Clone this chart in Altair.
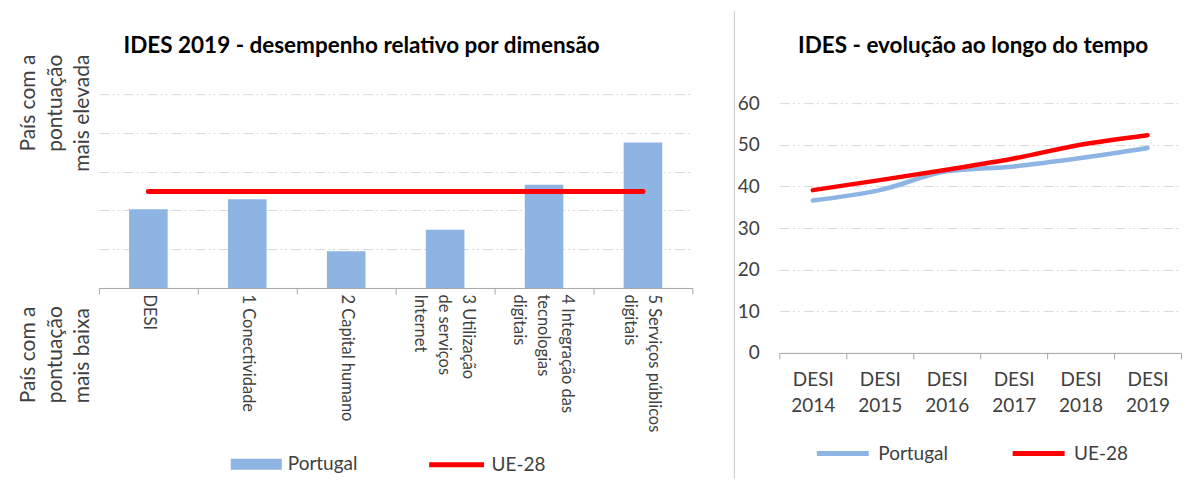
import altair as alt
import pandas as pd

FONT = "Lato"
TEXT = "#404040"
GRID = "#D9D9D9"
AXIS = "#A6A6A6"
BLUE = "#8DB4E2"
RED = "#FF0000"
GRID_DASH = [10, 3, 2, 3, 2, 4]

# ---- left panel data ----
dimensions = [
    "DESI",
    "1 Conectividade",
    "2 Capital humano",
    "3 Utilização\nde serviços\nInternet",
    "4 Integração das\ntecnologias\ndigitais",
    "5 Serviços públicos\ndigitais",
]
portugal_rel = [2.03, 2.29, 0.95, 1.50, 2.66, 3.75]
ue_rel = [2.49, 2.49, 2.49, 2.49, 2.49, 2.49]
rel_grid = [1, 2, 3, 4, 5]

# ---- right panel data ----
years = ["DESI 2014", "DESI 2015", "DESI 2016", "DESI 2017", "DESI 2018", "DESI 2019"]
portugal_desi = [36.6, 39.1, 43.6, 44.8, 46.8, 49.2]
ue_desi = [39.1, 41.5, 44.0, 46.7, 50.0, 52.3]
desi_ticks = [0, 10, 20, 30, 40, 50, 60]
series = ["Portugal", "UE-28"]

left_df = pd.DataFrame({
    "dim": dimensions,
    "Portugal": portugal_rel,
    "UE": ue_rel,
    "s_pt": ["Portugal"] * len(dimensions),
    "s_ue": ["UE-28"] * len(dimensions),
})

right_df = pd.DataFrame({
    "year": years + years,
    "value": portugal_desi + ue_desi,
    "series": ["Portugal"] * len(years) + ["UE-28"] * len(years),
})

LW, LH = 594, 194
RW, RH = 402, 259

label_shift = {
    "condition": [
        {"test": "length(split(datum.value, '\\n')) == 3", "value": 22},
        {"test": "length(split(datum.value, '\\n')) == 2", "value": 11},
    ],
    "value": 0,
}

x_left_axis = alt.Axis(
    title=["País com a", "pontuação", "mais baixa"],
    titleAngle=270, titleAlign="left", titleBaseline="top",
    titleX=-81, titleY=115, titleFont=FONT, titleFontSize=21,
    titleFontWeight="normal", titleColor=TEXT, titleLineHeight=27,
    labelExpr="split(datum.label, '\\n')", labelAngle=90,
    labelAlign="left", labelBaseline="middle", labelFont=FONT,
    labelFontSize=16.5, labelLineHeight=24, labelColor=TEXT,
    labelPadding=0, labelOverlap=False, labelLimit=300,
    labelOffset=label_shift,
    tickBand="extent", tickSize=6, tickColor=AXIS, domainColor=AXIS,
    grid=False,
)
y_left_axis = alt.Axis(
    values=rel_grid, labels=False, ticks=False, domain=False,
    grid=True, gridColor=GRID, gridDash=GRID_DASH, gridWidth=1,
    title=["País com a", "pontuação", "mais elevada"],
    titleAngle=270, titleAlign="right", titleBaseline="top",
    titleX=-81, titleY=-40, titleFont=FONT, titleFontSize=21,
    titleFontWeight="normal", titleColor=TEXT, titleLineHeight=27,
)
x_band = alt.Scale(type="band", paddingInner=0, paddingOuter=0)
y_left_scale = alt.Scale(domain=[0, 5], nice=False)

bars = alt.Chart(left_df).mark_bar(width=alt.RelativeBandSize(0.39)).encode(
    x=alt.X("dim:N", sort=dimensions, scale=x_band, axis=x_left_axis),
    y=alt.Y("Portugal:Q", scale=y_left_scale, axis=y_left_axis),
    fill=alt.Fill(
        "s_pt:N",
        scale=alt.Scale(domain=["Portugal"], range=[BLUE]),
        legend=alt.Legend(
            orient="none", legendX=132, legendY=345, title=None,
            symbolType="M-1,-0.216H1V0.216H-1Z", symbolSize=2601,
            symbolStrokeWidth=0, labelFont=FONT, labelFontSize=19,
            labelColor=TEXT, labelOffset=6, padding=0,
        ),
    ),
)
ue_line = alt.Chart(left_df).mark_line(strokeWidth=5, strokeCap="round").encode(
    x=alt.X("dim:N", sort=dimensions, scale=x_band, axis=x_left_axis, bandPosition=0.5),
    y=alt.Y("UE:Q", scale=y_left_scale, axis=y_left_axis),
    stroke=alt.Stroke(
        "s_ue:N",
        scale=alt.Scale(domain=["UE-28"], range=[RED]),
        legend=alt.Legend(
            orient="none", legendX=328, legendY=341, title=None,
            symbolType="stroke", symbolSize=3025, symbolStrokeWidth=5,
            labelFont=FONT, labelFontSize=19, labelColor=TEXT,
            labelOffset=5, padding=0,
        ),
    ),
)

left = alt.layer(bars, ue_line).properties(
    width=LW, height=LH,
    title=alt.TitleParams(
        "IDES 2019 - desempenho relativo por dimensão", font=FONT,
        fontSize=22.5, fontWeight="bold", color="#000000", anchor="middle",
        frame="group", dx=-34, offset=-3,
    ),
)

lines = alt.Chart(right_df).mark_line(strokeWidth=4.5, interpolate="monotone", strokeCap="round").encode(
    x=alt.X(
        "year:N", sort=years, bandPosition=0.5, scale=x_band,
        axis=alt.Axis(
            title=None, labelExpr="split(datum.label, ' ')", labelAngle=0,
            labelAlign="center", labelBaseline="top", labelFont=FONT,
            labelFontSize=19, labelLineHeight=26, labelColor=TEXT,
            labelPadding=12, tickBand="extent", tickSize=6,
            tickColor=AXIS, domainColor=AXIS, grid=False,
        ),
    ),
    y=alt.Y(
        "value:Q", scale=alt.Scale(domain=[0, 62.16], nice=False),
        axis=alt.Axis(
            values=desi_ticks, title=None, ticks=False, tickSize=0,
            domain=False, grid=True, gridColor=GRID, gridDash=GRID_DASH,
            labelFont=FONT, labelFontSize=19, labelColor=TEXT,
            labelPadding=20,
        ),
    ),
    color=alt.Color(
        "series:N", sort=series,
        scale=alt.Scale(domain=series, range=[BLUE, RED]),
        legend=alt.Legend(
            orient="none", legendX=35, legendY=331, title=None,
            direction="horizontal", symbolType="stroke", symbolSize=2704,
            symbolStrokeWidth=5, labelFont=FONT, labelFontSize=19,
            labelColor=TEXT, labelOffset=7, columnPadding=54, padding=0,
        ),
    ),
)
divider = alt.Chart(pd.DataFrame({"k": [0]})).mark_rule(color="#C8C8C8", strokeWidth=1).encode(
    x=alt.value(-45), y=alt.value(-83), y2=alt.value(385)
)
right = alt.layer(lines, divider).properties(
    width=RW, height=RH,
    title=alt.TitleParams(
        "IDES - evolução ao longo do tempo", font=FONT, fontSize=22.5,
        fontWeight="bold", color="#000000", anchor="middle",
        frame="group", dx=-7, offset=-46.5,
    ),
)

chart = alt.hconcat(left, right, spacing=40).resolve_scale(
    color="independent", fill="independent", stroke="independent"
).properties(
    padding={"left": 10, "top": 2, "right": 0, "bottom": 0}
).configure(font=FONT).configure_view(stroke="transparent", strokeWidth=0)

chart.save("out.html", embed_options={"renderer": "svg", "actions": False})
